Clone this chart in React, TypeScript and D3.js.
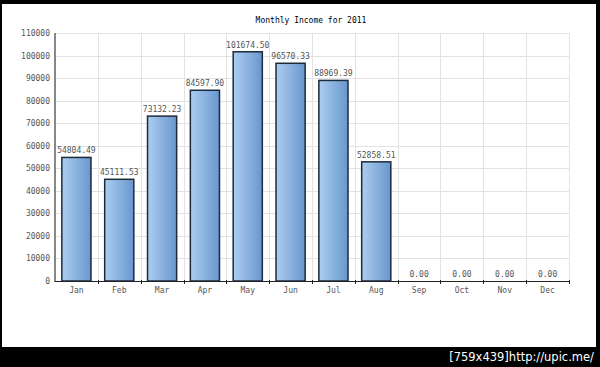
import React, { useEffect, useRef } from 'react';
import * as d3 from 'd3';

const months = ['Jan', 'Feb', 'Mar', 'Apr', 'May', 'Jun', 'Jul', 'Aug', 'Sep', 'Oct', 'Nov', 'Dec'];
const income = [54804.49, 45111.53, 73132.23, 84597.9, 101674.5, 96570.33, 88969.39, 52858.51, 0, 0, 0, 0];
const yTicks = [0, 10000, 20000, 30000, 40000, 50000, 60000, 70000, 80000, 90000, 100000, 110000];

const width = 600,
  height = 367;
const margin = { top: 33, right: 31, bottom: 86, left: 55 };
const font = "'DejaVu Sans Mono', monospace";

function App() {
  const ref = useRef<SVGSVGElement>(null);

  useEffect(() => {
    const svg = d3.select(ref.current);
    svg.selectAll('*').remove();

    const x0 = margin.left,
      x1 = width - margin.right,
      y0 = height - margin.bottom,
      y1 = margin.top;

    const x = d3.scaleBand<string>().domain(months).range([x0, x1]).paddingInner(0.32).paddingOuter(0.16);
    const y = d3.scaleLinear().domain([0, 110000]).range([y0, y1]);
    const step = x.step();
    const boundary = (d: string) => Math.round((x(d) as number) - step * 0.16 + step) + 0.5;

    // frame
    svg.append('rect').attr('width', width).attr('height', height).attr('fill', '#000');
    svg.append('rect').attr('x', 2).attr('y', 4).attr('width', 594).attr('height', 343).attr('fill', '#fff');

    const defs = svg.append('defs');
    const grad = defs.append('linearGradient').attr('id', 'barGrad').attr('x1', '0%').attr('x2', '100%');
    grad.append('stop').attr('offset', '0%').attr('stop-color', '#accdf0');
    grad.append('stop').attr('offset', '100%').attr('stop-color', '#6897cd');

    // grid
    const grid = svg.append('g').attr('stroke', '#e2e2e2').attr('stroke-width', 1);
    grid
      .selectAll('line.h')
      .data(yTicks.slice(1))
      .enter()
      .append('line')
      .attr('x1', x0)
      .attr('x2', x1)
      .attr('y1', (d) => Math.round(y(d)) + 0.5)
      .attr('y2', (d) => Math.round(y(d)) + 0.5);
    grid
      .selectAll('line.v')
      .data(months)
      .enter()
      .append('line')
      .attr('x1', boundary)
      .attr('x2', boundary)
      .attr('y1', y1)
      .attr('y2', y0);

    // bars
    svg
      .selectAll('rect.bar')
      .data(income)
      .enter()
      .append('rect')
      .attr('x', (d, i) => x(months[i]) as number)
      .attr('y', (d) => y(d))
      .attr('width', x.bandwidth())
      .attr('height', (d) => y0 - y(d))
      .attr('fill', 'url(#barGrad)')
      .attr('stroke', '#1c2a3c')
      .attr('stroke-width', 1.5);

    // value labels
    svg
      .selectAll('text.val')
      .data(income)
      .enter()
      .append('text')
      .attr('x', (d, i) => (x(months[i]) as number) + x.bandwidth() / 2)
      .attr('y', (d) => y(d) - 4)
      .attr('text-anchor', 'middle')
      .attr('font-family', font)
      .attr('font-size', 8)
      .attr('fill', '#555')
      .text((d) => d.toFixed(2));

    // y axis
    svg.append('line').attr('x1', x0).attr('x2', x0).attr('y1', y1).attr('y2', y0 + 1).attr('stroke', '#888').attr('stroke-width', 2);
    svg
      .selectAll('text.yt')
      .data(yTicks)
      .enter()
      .append('text')
      .attr('x', x0 - 5)
      .attr('y', (d) => y(d) + 3)
      .attr('text-anchor', 'end')
      .attr('font-family', font)
      .attr('font-size', 8)
      .attr('fill', '#555')
      .text((d) => d);

    // x axis
    svg.append('line').attr('x1', x0).attr('x2', x1).attr('y1', y0 + 0.5).attr('y2', y0 + 0.5).attr('stroke', '#222').attr('stroke-width', 1);
    svg
      .selectAll('line.xt')
      .data(months)
      .enter()
      .append('line')
      .attr('x1', boundary)
      .attr('x2', boundary)
      .attr('y1', y0 - 1)
      .attr('y2', y0 + 3)
      .attr('stroke', '#222');
    svg
      .selectAll('text.xl')
      .data(months)
      .enter()
      .append('text')
      .attr('x', (d) => (x(d) as number) + x.bandwidth() / 2)
      .attr('y', y0 + 12)
      .attr('text-anchor', 'middle')
      .attr('font-family', font)
      .attr('font-size', 8)
      .attr('fill', '#555')
      .text((d) => d);

    // title
    svg
      .append('text')
      .attr('x', 311)
      .attr('y', 23)
      .attr('text-anchor', 'middle')
      .attr('font-family', font)
      .attr('font-size', 8)
      .attr('fill', '#000')
      .text('Monthly Income for 2011');

    // watermark band
    svg
      .append('text')
      .attr('x', 594)
      .attr('y', 361)
      .attr('text-anchor', 'end')
      .attr('font-family', "'DejaVu Sans', sans-serif")
      .attr('font-size', 11.5)
      .attr('fill', '#fff')
      .text('[759x439]http://upic.me/');
  }, []);

  return <svg ref={ref} width={width} height={height} style={{ position: 'absolute', left: 0, top: 0 }} />;
}

export default App;
